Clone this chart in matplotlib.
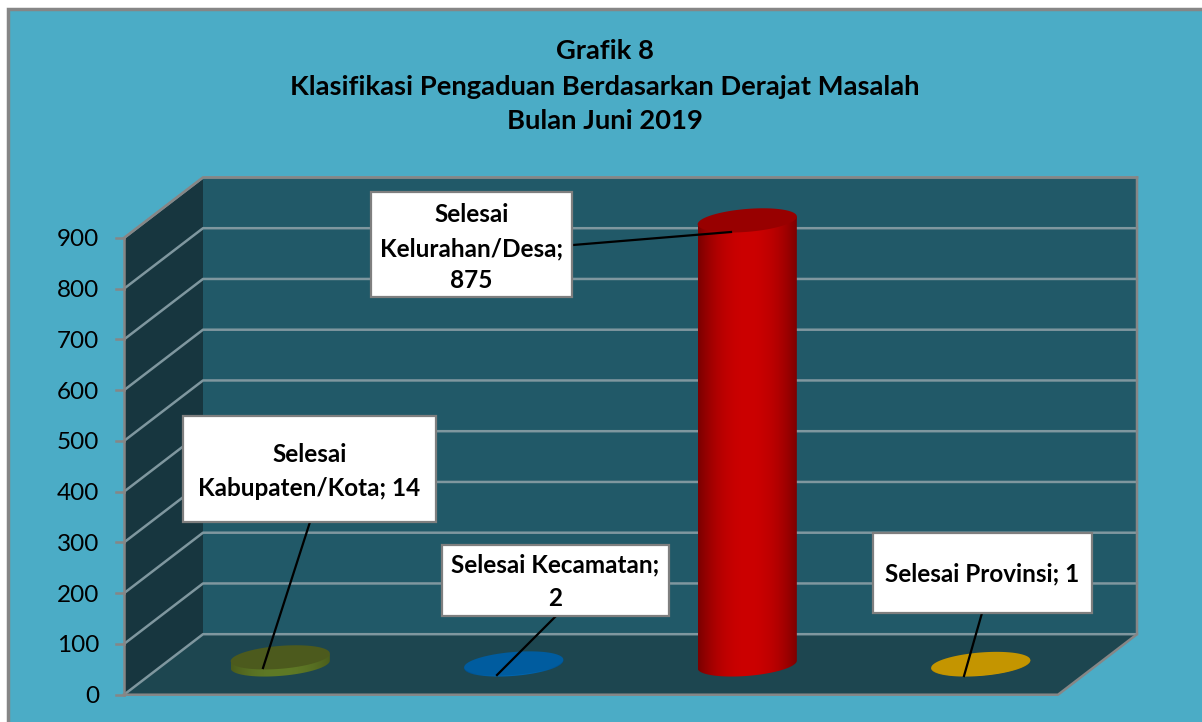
import numpy as np
import matplotlib
matplotlib.use("Agg")
import matplotlib.pyplot as plt
from matplotlib.patches import Polygon, Rectangle
from matplotlib.transforms import Affine2D

plt.rcParams['font.family'] = ['Lato', 'DejaVu Sans']

# data
categories = ['Selesai Kabupaten/Kota', 'Selesai Kecamatan', 'Selesai Kelurahan/Desa', 'Selesai Provinsi']
values = [14, 2, 875, 1]
yticks = [0, 100, 200, 300, 400, 500, 600, 700, 800, 900]
title_lines = ['Grafik 8', 'Klasifikasi Pengaduan Berdasarkan Derajat Masalah', 'Bulan Juni 2019']
label_lines = [['Selesai', 'Kabupaten/Kota; 14'], ['Selesai Kecamatan;', '2'],
               ['Selesai', 'Kelurahan/Desa;', '875'], ['Selesai Provinsi; 1']]
side_dark = ['#4a5c1c', '#004f8c', '#7a0000', '#a88000']
side_light = ['#5f7a26', '#0066b0', '#cc0000', '#d09c00']
top_colors = ['#4c5a1d', '#005c9f', '#980000', '#c49500']

W, H = 1202, 722
fig = plt.figure(figsize=(W / 100, H / 100), dpi=100, facecolor='white')

# x in category units, y in value units, depth moves both
cat_w = 233.5
val_h = 0.5075
y0_px = 694.7
x0_px = 240.75
ax = fig.add_axes([0, 0, 1, 1])
ax.set_xlim(-x0_px / cat_w, (W - x0_px) / cat_w)
ax.set_ylim((y0_px - H) / val_h, y0_px / val_h)
ax.axis('off')
px = Affine2D().scale(1 / W, -1 / H).translate(0, 1) + fig.transFigure

ddx = 79 / cat_w
ddy = 60.5 / val_h
xl, xr = -0.5, 3.5
ytop = yticks[-1]

# chart area
ax.add_patch(Rectangle((8, 9), W, H, transform=px, fc='#4bacc6', ec='#868686', lw=2.5, zorder=0))

# walls and floor
ax.add_patch(Polygon([(xl + ddx, ddy), (xr + ddx, ddy), (xr + ddx, ytop + ddy), (xl + ddx, ytop + ddy)],
                     fc='#215968', ec='none', zorder=1))
ax.add_patch(Polygon([(xl, 0), (xl + ddx, ddy), (xl + ddx, ytop + ddy), (xl, ytop)],
                     fc='#17363f', ec='none', zorder=1))
ax.add_patch(Polygon([(xl, 0), (xr, 0), (xr + ddx, ddy), (xl + ddx, ddy)],
                     fc='#1d4650', ec='none', zorder=1))

# gridlines and ticks
for v in yticks:
    ax.plot([xl, xl + ddx, xr + ddx], [v, v + ddy, v + ddy], color='#7f979f', lw=1.8, zorder=2)
    ax.plot([xl - 8 / cat_w, xl], [v, v], color='#868686', lw=1.8, zorder=3)
    ax.text(xl - 25 / cat_w, v - 2 / val_h, str(v), ha='right', va='center', fontsize=17.5, color='black', zorder=3)
ax.plot([xl, xl], [0, ytop], color='#868686', lw=1.8, zorder=3)
ax.plot([xl, xr, xr + ddx, xr + ddx], [0, 0, ddy, ytop + ddy], color='#868686', lw=1.8, zorder=3)
ax.plot([xl, xl + ddx, xr + ddx], [ytop, ytop + ddy, ytop + ddy], color='#868686', lw=1.8, zorder=3)

# cylinders, circle in the oblique projection
a = 47 / cat_w
b = 0.2


def ring(xc, v, t):
    return (xc + ddx / 2 + a * np.cos(t) + b * ddx * np.sin(t), v + ddy / 2 + b * ddy * np.sin(t))


t0 = np.arctan2(b * ddx, a)
tt = np.linspace(0, 2 * np.pi, 120)
for i, v in enumerate(values):
    low = np.linspace(t0 + np.pi, t0 + 2 * np.pi, 60)
    bx, by = ring(i, 0, low)
    tx, ty = ring(i, v, tt)
    side = Polygon(list(zip(bx, by)) + [(bx[-1], by[-1] + v), (bx[0], by[0] + v)], fc='none', ec='none')
    ax.add_patch(side)
    c0 = np.array(matplotlib.colors.to_rgb(side_dark[i]))
    c1 = np.array(matplotlib.colors.to_rgb(side_light[i]))
    g = 1 - np.abs(np.linspace(-1, 1, 200)) ** 2.2
    img = (c0[None, :] + (c1 - c0)[None, :] * g[:, None])[None, :, :]
    im = ax.imshow(img, extent=[bx.min(), bx.max(), by.min(), by.max() + v], aspect='auto', zorder=4)
    im.set_clip_path(side)
    ax.fill(tx, ty, color=top_colors[i], lw=0, zorder=5)
ax.set_xlim(-x0_px / cat_w, (W - x0_px) / cat_w)
ax.set_ylim((y0_px - H) / val_h, y0_px / val_h)

# title
for line, y in zip(title_lines, [51, 87, 121]):
    ax.text(605, y, line, transform=px, ha='center', va='center', fontsize=19.7, fontweight='bold', color='black', zorder=8)

# data labels
boxes = [(183, 416, 436, 522), (442, 545, 669, 616), (371, 192, 572, 297), (873, 533, 1092, 613)]
starts = [(310, 522), (555, 617), (573, 245), (982, 613)]
ends = [(263, 668), (497, 675), (731, 232), (964, 676)]
text_y = [[455, 488], [565, 598], [214, 249, 281], [574]]
for i in range(4):
    x1, y1, x2, y2 = boxes[i]
    ax.plot([starts[i][0], ends[i][0]], [starts[i][1], ends[i][1]], transform=px, color='black', lw=1.6, zorder=6)
    ax.add_patch(Rectangle((x1, y1), x2 - x1, y2 - y1, transform=px, fc='white', ec='#7f7f7f', lw=1.6, zorder=7))
    for line, y in zip(label_lines[i], text_y[i]):
        ax.text((x1 + x2) / 2, y, line, transform=px, ha='center', va='center', fontsize=17.5, fontweight='bold',
                color='black', zorder=8)

fig.savefig('out.png', dpi=100, facecolor='white')
